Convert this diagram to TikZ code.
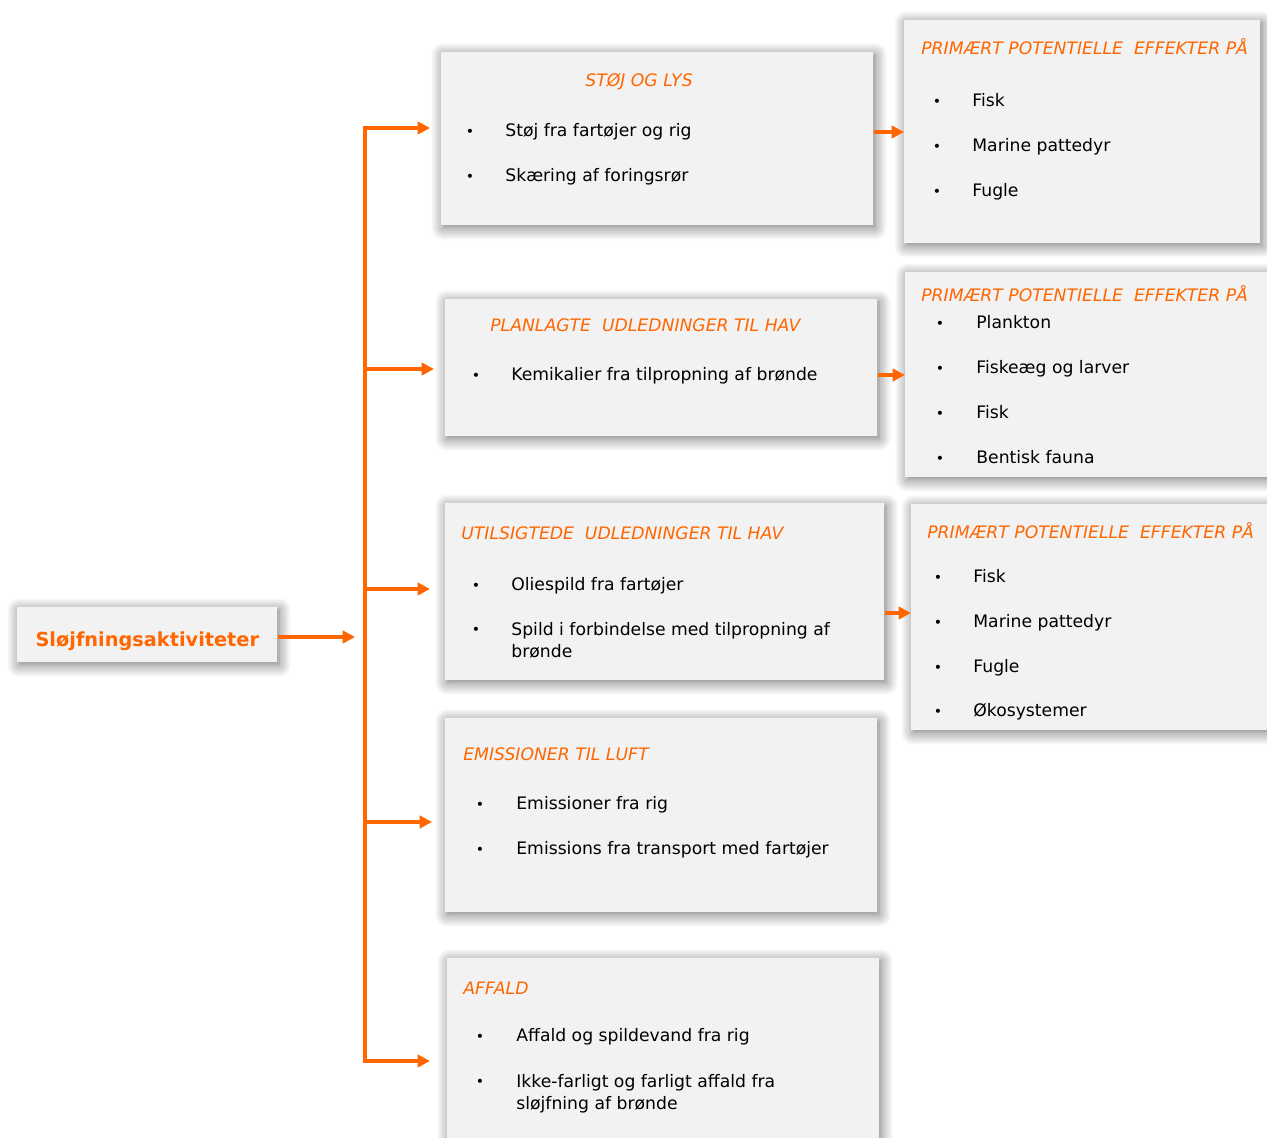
\documentclass[tikz,border=0pt]{standalone}
\usepackage{fontspec}
\setmainfont{DejaVu Sans}
\usetikzlibrary{arrows.meta,shadows.blur}

\definecolor{akt}{HTML}{FF6600}
\definecolor{boksgraa}{HTML}{F2F2F2}

\tikzset{
  boks/.style={fill=boksgraa, anchor=north west, inner sep=0pt,
    blur shadow={shadow xshift=1pt, shadow yshift=-1.5pt, shadow blur radius=7pt, shadow blur steps=12, shadow opacity=55}},
  titel/.style={anchor=mid west, inner sep=0pt, yshift=-0.04cm, text=akt, font=\fontsize{9.8}{12}\selectfont\itshape},
  punkt/.style={anchor=center, inner sep=0pt, yshift=-0.06cm, font=\fontsize{8}{10}\selectfont},
  tekst/.style={anchor=mid west, inner sep=0pt, yshift=-0.04cm, font=\fontsize{9.8}{12.5}\selectfont},
  pil/.style={draw=akt, line width=2.1pt, -{Triangle[length=7pt,width=7pt]}},
  pilbegge/.style={draw=akt, line width=2.1pt, {Triangle[length=7pt,width=7pt]}-{Triangle[length=7pt,width=7pt]}},
}

\begin{document}
\begin{tikzpicture}[x=0.02cm,y=-0.02cm]
  \useasboundingbox (0,0) rectangle (1267,1138);

  % Boxes
  \node[boks, minimum width=5.2cm, minimum height=1.1cm, text=akt, text height=13.5pt, text depth=0pt,
        font=\fontsize{11}{13}\selectfont\bfseries] (sloejf) at (17,607) {Sløjfningsaktiviteter};

  \node[boks, minimum width=8.64cm, minimum height=3.46cm] (stoj)        at (441,52)  {};
  \node[boks, minimum width=8.64cm, minimum height=2.74cm] (planlagte)   at (445,299) {};
  \node[boks, minimum width=8.78cm, minimum height=3.54cm] (utilsigtede) at (445,503) {};
  \node[boks, minimum width=8.64cm, minimum height=3.88cm] (emission)    at (445,718) {};
  \node[boks, minimum width=8.64cm, minimum height=3.8cm]  (affald)      at (447,958) {};

  \node[boks, minimum width=7.12cm, minimum height=4.46cm] (effA) at (904,20)  {};
  \node[boks, minimum width=7.4cm,  minimum height=4.1cm]  (effB) at (905,272) {};
  \node[boks, minimum width=7.2cm,  minimum height=4.52cm] (effC) at (911,504) {};

  % Texts, middle column
  \node[titel] (tit-stoj) at (585,80) {STØJ OG LYS};
  \node[punkt] (b-stoj-1) at (470,130) {\textbullet};
  \node[tekst] (t-stoj-1) at (505,130) {Støj fra fartøjer og rig};
  \node[punkt] (b-stoj-2) at (470,175) {\textbullet};
  \node[tekst] (t-stoj-2) at (505,175) {Skæring af foringsrør};

  \node[titel] (tit-planlagte) at (490,325) {PLANLAGTE\ \ UDLEDNINGER TIL HAV};
  \node[punkt] (b-planlagte-1) at (476,374) {\textbullet};
  \node[tekst] (t-planlagte-1) at (511,374) {Kemikalier fra tilpropning af brønde};

  \node[titel] (tit-utilsigtede) at (461,533) {UTILSIGTEDE\ \ UDLEDNINGER TIL HAV};
  \node[punkt] (b-utilsigtede-1) at (476,584) {\textbullet};
  \node[tekst] (t-utilsigtede-1) at (511,584) {Oliespild fra fartøjer};
  \node[punkt] (b-utilsigtede-2) at (476,628) {\textbullet};
  \node[tekst, anchor=north west, align=left] (t-utilsigtede-2) at (511,620)
    {Spild i forbindelse med tilpropning af\\brønde};

  \node[titel] (tit-emission) at (463,754) {EMISSIONER TIL LUFT};
  \node[punkt] (b-emission-1) at (480,803) {\textbullet};
  \node[tekst] (t-emission-1) at (516,803) {Emissioner fra rig};
  \node[punkt] (b-emission-2) at (480,848) {\textbullet};
  \node[tekst] (t-emission-2) at (516,848) {Emissions fra transport med fartøjer};

  \node[titel] (tit-affald) at (463,988) {AFFALD};
  \node[punkt] (b-affald-1) at (480,1035) {\textbullet};
  \node[tekst] (t-affald-1) at (516,1035) {Affald og spildevand fra rig};
  \node[punkt] (b-affald-2) at (480,1080) {\textbullet};
  \node[tekst, anchor=north west, align=left] (t-affald-2) at (516,1072)
    {Ikke-farligt og farligt affald fra\\sløjfning af brønde};

  % Texts, right column
  \node[titel] (tit-effA) at (921,48) {PRIMÆRT POTENTIELLE\ \ EFFEKTER PÅ};
  \node[punkt] (b-effA-1) at (937,100) {\textbullet};
  \node[tekst] (t-effA-1) at (972,100) {Fisk};
  \node[punkt] (b-effA-2) at (937,145) {\textbullet};
  \node[tekst] (t-effA-2) at (972,145) {Marine pattedyr};
  \node[punkt] (b-effA-3) at (937,190) {\textbullet};
  \node[tekst] (t-effA-3) at (972,190) {Fugle};

  \node[titel] (tit-effB) at (921,295) {PRIMÆRT POTENTIELLE\ \ EFFEKTER PÅ};
  \node[punkt] (b-effB-1) at (940,322) {\textbullet};
  \node[tekst] (t-effB-1) at (976,322) {Plankton};
  \node[punkt] (b-effB-2) at (940,367) {\textbullet};
  \node[tekst] (t-effB-2) at (976,367) {Fiskeæg og larver};
  \node[punkt] (b-effB-3) at (940,412) {\textbullet};
  \node[tekst] (t-effB-3) at (976,412) {Fisk};
  \node[punkt] (b-effB-4) at (940,457) {\textbullet};
  \node[tekst] (t-effB-4) at (976,457) {Bentisk fauna};

  \node[titel] (tit-effC) at (927,532) {PRIMÆRT POTENTIELLE\ \ EFFEKTER PÅ};
  \node[punkt] (b-effC-1) at (938,576) {\textbullet};
  \node[tekst] (t-effC-1) at (973,576) {Fisk};
  \node[punkt] (b-effC-2) at (938,621) {\textbullet};
  \node[tekst] (t-effC-2) at (973,621) {Marine pattedyr};
  \node[punkt] (b-effC-3) at (938,666) {\textbullet};
  \node[tekst] (t-effC-3) at (973,666) {Fugle};
  \node[punkt] (b-effC-4) at (938,710) {\textbullet};
  \node[tekst] (t-effC-4) at (973,710) {Økosystemer};

  % Connect the nodes
  \coordinate (samler) at (355,637);
  \coordinate (top)    at (365,128);
  \coordinate (g2)     at (365,369);
  \coordinate (g3)     at (365,589);
  \coordinate (g4)     at (365,822);
  \coordinate (bund)   at (365,1061);

  \draw[pil] (sloejf.east |- samler) -- (samler);
  \draw[pilbegge, shorten <=0.22cm, shorten >=0.34cm]
    (top -| stoj.west) -- (top) -- (bund) -- (bund -| affald.west);
  \draw[pil, shorten >=0.22cm] (g2) -- (g2 -| planlagte.west);
  \draw[pil, shorten >=0.30cm] (g3) -- (g3 -| utilsigtede.west);
  \draw[pil, shorten >=0.26cm] (g4) -- (g4 -| emission.west);

  \coordinate (p1) at (906,132);
  \coordinate (p2) at (906,375);
  \coordinate (p3) at (913,613);
  \draw[pil] (p1 -| stoj.east) -- (p1 -| effA.west);
  \draw[pil] (p2 -| planlagte.east) -- (p2 -| effB.west);
  \draw[pil] (p3 -| utilsigtede.east) -- (p3 -| effC.west);
\end{tikzpicture}
\end{document}
